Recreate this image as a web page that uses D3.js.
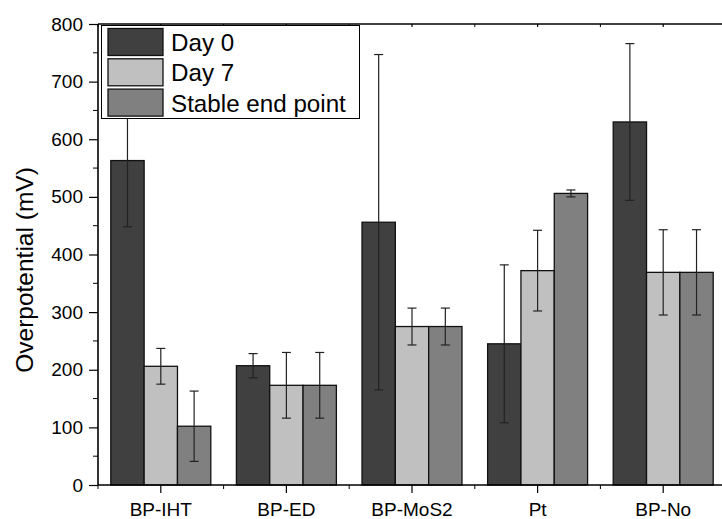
<!DOCTYPE html>
<html>
<head>
<meta charset="utf-8">
<script src="https://cdn.jsdelivr.net/npm/d3@7"></script>
<style>
  body { margin: 0; background: #fff; }
  svg { display: block; font-family: Arial, "Liberation Sans", sans-serif; }
</style>
</head>
<body>
<svg id="chart" width="722" height="519"></svg>
<script>
// Overpotential per catalyst, three time points

var categories = ["BP-IHT", "BP-ED", "BP-MoS2", "Pt", "BP-No"];
var seriesNames = ["Day 0", "Day 7", "Stable end point"];
var day0 = [563, 207, 456, 245, 630];
var day0Err = [115, 21, 291, 137, 136];
var day7 = [206, 173, 275, 372, 369];
var day7Err = [31, 57, 32, 70, 74];
var stable = [102, 173, 275, 506, 369];
var stableErr = [61, 57, 32, 6, 74];
var yTicks = [0, 100, 200, 300, 400, 500, 600, 700, 800];

var colors = ["#404040", "#c0c0c0", "#808080"];
var values = [day0, day7, stable];
var errors = [day0Err, day7Err, stableErr];

// flatten into one row per bar
var rows = [];
categories.forEach(function(c, i) {
  seriesNames.forEach(function(s, j) {
    rows.push({cat: c, series: s, idx: j, value: values[j][i], err: errors[j][i]});
  });
});

var svg = d3.select("#chart");
var LEFT = 98, RIGHT = 726, TOP = 24, BOTTOM = 485;

var x = d3.scaleBand().domain(categories).range([LEFT, RIGHT])
  .paddingInner(0.204).paddingOuter(0.102);
var xs = d3.scaleBand().domain(seriesNames).range([0, x.bandwidth()]);
var y = d3.scaleLinear().domain([0, 800]).range([BOTTOM, TOP]);

// bars
svg.append("g").selectAll("rect").data(rows).enter().append("rect")
  .attr("x", function(d) { return x(d.cat) + xs(d.series); })
  .attr("y", function(d) { return y(d.value); })
  .attr("width", xs.bandwidth())
  .attr("height", function(d) { return y(0) - y(d.value); })
  .attr("fill", function(d) { return colors[d.idx]; })
  .attr("stroke", "#111")
  .attr("stroke-width", 1.3);

// error bars
var eb = svg.append("g").attr("stroke", "#222").attr("stroke-width", 1.2)
  .selectAll("g").data(rows).enter().append("g")
  .attr("transform", function(d) { return "translate(" + (x(d.cat) + xs(d.series) + xs.bandwidth() / 2) + ",0)"; });
eb.append("line")
  .attr("y1", function(d) { return y(d.value + d.err); })
  .attr("y2", function(d) { return y(d.value - d.err); });
eb.append("line").attr("x1", -4.5).attr("x2", 4.5)
  .attr("y1", function(d) { return y(d.value + d.err); })
  .attr("y2", function(d) { return y(d.value + d.err); });
eb.append("line").attr("x1", -4.5).attr("x2", 4.5)
  .attr("y1", function(d) { return y(d.value - d.err); })
  .attr("y2", function(d) { return y(d.value - d.err); });

// axes
var minorY = d3.range(50, 800, 100);
var boundaries = categories.map(function(c) { return x(c) - x.step() * 0.102; }).concat([RIGHT]);

var yAxis = svg.append("g").attr("transform", "translate(" + LEFT + ",0)")
  .call(d3.axisLeft(y).tickValues(yTicks).tickSize(9).tickPadding(6));
yAxis.append("g").selectAll("line").data(minorY).enter().append("line")
  .attr("x1", -5).attr("x2", 0)
  .attr("y1", function(d) { return y(d); }).attr("y2", function(d) { return y(d); })
  .attr("stroke", "#000");

var xAxis = svg.append("g").attr("transform", "translate(0," + BOTTOM + ")")
  .call(d3.axisBottom(x).tickSize(8).tickPadding(10));
xAxis.append("g").selectAll("line").data(boundaries).enter().append("line")
  .attr("x1", function(d) { return d; }).attr("x2", function(d) { return d; })
  .attr("y1", 0).attr("y2", 4).attr("stroke", "#000");

// top frame with small inward ticks
var topAxis = svg.append("g").attr("transform", "translate(0," + TOP + ")")
  .call(d3.axisBottom(x).tickSize(3).tickFormat(""));
topAxis.append("g").selectAll("line").data(boundaries).enter().append("line")
  .attr("x1", function(d) { return d; }).attr("x2", function(d) { return d; })
  .attr("y1", 0).attr("y2", 3).attr("stroke", "#000");

svg.selectAll(".domain").attr("stroke", "#000").attr("stroke-width", 1.6);
yAxis.selectAll(".domain").attr("d", "M0," + BOTTOM + "V" + TOP);
xAxis.selectAll(".domain").attr("d", "M" + LEFT + ",0H" + RIGHT);
topAxis.selectAll(".domain").attr("d", "M" + LEFT + ",0H" + RIGHT);
svg.selectAll(".tick line").attr("stroke", "#000").attr("stroke-width", 1.2);
svg.selectAll(".tick text").attr("font-size", 19).attr("font-family", null).attr("fill", "#000");

svg.append("text")
  .attr("transform", "translate(33,270) rotate(-90)")
  .attr("text-anchor", "middle")
  .attr("font-size", 24.5)
  .text("Overpotential (mV)");

// legend
var legend = svg.append("g");
legend.append("rect").attr("x", 101.5).attr("y", 25.5).attr("width", 258).attr("height", 93)
  .attr("fill", "#fff").attr("stroke", "#000").attr("stroke-width", 1);
var items = legend.selectAll("g.item").data(seriesNames).enter().append("g")
  .attr("transform", function(d, i) { return "translate(108," + (28.5 + i * 30.3) + ")"; });
items.append("rect").attr("width", 55).attr("height", 27)
  .attr("fill", function(d, i) { return colors[i]; })
  .attr("stroke", "#111").attr("stroke-width", 1.3);
items.append("text").attr("x", 63).attr("y", 22.5)
  .attr("font-size", 24.2)
  .text(function(d) { return d; });
</script>
</body>
</html>
